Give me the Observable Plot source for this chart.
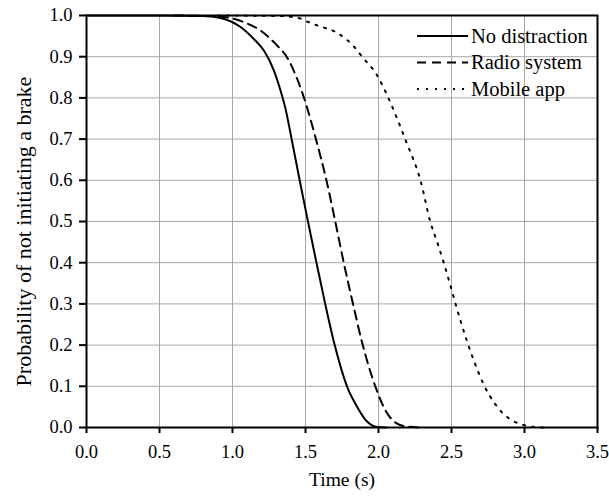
<!DOCTYPE html>
<html>
<head>
<meta charset="utf-8">
<script src="https://cdn.jsdelivr.net/npm/d3@7"></script>
<script src="https://cdn.jsdelivr.net/npm/@observablehq/plot@0.6"></script>
<style>
  html, body { margin: 0; padding: 0; background: #fff; }
  #chart { width: 609px; height: 496px; }
  #chart svg text { font-family: "Liberation Serif", "Times New Roman", serif !important; }
</style>
</head>
<body>
<div id="chart"></div>
<script>
// Series names
const seriesNames = ["No distraction", "Radio system", "Mobile app"];
const xTitle = "Time (s)";
const yTitle = "Probability of not initiating a brake";

// No distraction (solid)
const noDistractionT = [0.0, 0.5, 0.8, 0.918, 1.055, 1.146, 1.215, 1.283, 1.329, 1.363, 1.405, 1.46, 1.517, 1.575, 1.635, 1.70, 1.786, 1.854, 1.92, 1.98, 2.05];
const noDistractionP = [1.0, 1.0, 0.999, 0.994, 0.972, 0.943, 0.915, 0.867, 0.818, 0.774, 0.70, 0.60, 0.50, 0.40, 0.30, 0.20, 0.098, 0.05, 0.015, 0.002, 0.0];

// Radio system (dashed)
const radioT = [0.6, 0.9, 1.077, 1.19, 1.295, 1.386, 1.443, 1.488, 1.573, 1.644, 1.705, 1.762, 1.826, 1.893, 1.98, 2.05, 2.116, 2.2, 2.3];
const radioP = [1.0, 0.998, 0.984, 0.964, 0.931, 0.891, 0.846, 0.802, 0.698, 0.599, 0.498, 0.40, 0.299, 0.199, 0.098, 0.04, 0.012, 0.002, 0.0];

// Mobile app (dotted)
const mobileT = [0.9, 1.3, 1.44, 1.52, 1.58, 1.726, 1.836, 1.89, 1.99, 2.07, 2.15, 2.185, 2.288, 2.356, 2.402, 2.447, 2.509, 2.532, 2.603, 2.658, 2.717, 2.795, 2.847, 2.916, 2.995, 3.07, 3.15];
const mobileP = [1.0, 0.999, 0.995, 0.984, 0.976, 0.956, 0.923, 0.899, 0.855, 0.798, 0.73, 0.698, 0.599, 0.498, 0.45, 0.40, 0.324, 0.295, 0.213, 0.158, 0.107, 0.059, 0.036, 0.017, 0.006, 0.001, 0.0];

// Tick values
const xTicks = [0, 0.5, 1.0, 1.5, 2.0, 2.5, 3.0, 3.5];
const yTicks = [0, 0.1, 0.2, 0.3, 0.4, 0.5, 0.6, 0.7, 0.8, 0.9, 1.0];

const toRows = (ts, ps) => ts.map((t, i) => ({t, p: ps[i]}));
const rowsND = toRows(noDistractionT, noDistractionP);
const rowsR = toRows(radioT, radioP);
const rowsM = toRows(mobileT, mobileP);

const dashes = ["none", "9,6", "2,7"];
const font = "'Liberation Serif', 'Times New Roman', serif";

const plot = Plot.plot({
  width: 609,
  height: 496,
  marginLeft: 86,
  marginRight: 12,
  marginTop: 15,
  marginBottom: 69,
  style: {fontFamily: font, fontSize: "18.5px", color: "#000", background: "#fff"},
  x: {domain: [0, 3.5]},
  y: {domain: [0, 1]},
  marks: [
    Plot.gridX(xTicks, {stroke: "#a8a8a8", strokeOpacity: 1, strokeWidth: 1}),
    Plot.gridY(yTicks, {stroke: "#a8a8a8", strokeOpacity: 1, strokeWidth: 1}),
    Plot.axisX({ticks: xTicks, tickFormat: d3.format(".1f"), tickSize: 6, strokeWidth: 2, tickPadding: 11, fontSize: 18.5, label: null}),
    Plot.axisY({ticks: yTicks, tickFormat: d3.format(".1f"), tickSize: 7, strokeWidth: 2, tickPadding: 7, fontSize: 18.5, label: null}),
    Plot.text([xTitle], {frameAnchor: "bottom", dy: 52, lineAnchor: "middle", textAnchor: "middle", fontSize: 19.5, fill: "#000"}),
    Plot.text([yTitle], {frameAnchor: "left", dx: -63, dy: 10, rotate: -90, lineAnchor: "middle", textAnchor: "middle", fontSize: 22, fill: "#000"}),
    Plot.line(rowsND, {x: "t", y: "p", curve: "monotone-x", stroke: "#000", strokeWidth: 2}),
    Plot.line(rowsR, {x: "t", y: "p", curve: "monotone-x", stroke: "#000", strokeWidth: 2, strokeDasharray: dashes[1]}),
    Plot.line(rowsM, {x: "t", y: "p", curve: "monotone-x", stroke: "#000", strokeWidth: 2, strokeDasharray: dashes[2]}),
    Plot.frame({stroke: "#000", strokeWidth: 2})
  ]
});

// Legend inside the plot, top-right
const svg = d3.select(plot);
const lg = svg.append("g").attr("font-family", font).attr("font-size", "20.5px").attr("text-anchor", "start");
seriesNames.forEach((name, i) => {
  const yy = 36 + i * 26.5;
  const g = lg.append("g").attr("transform", `translate(417,${yy})`);
  g.append("line").attr("x1", 0).attr("x2", 51).attr("y1", 0).attr("y2", 0)
    .attr("stroke", "#000").attr("stroke-width", 2)
    .attr("stroke-dasharray", dashes[i] === "none" ? null : dashes[i]);
  g.append("text").attr("x", 54).attr("y", 0).attr("dy", "0.33em").attr("fill", "#000")
    .attr("text-anchor", "start").text(name);
});

document.getElementById("chart").appendChild(plot);
</script>
</body>
</html>
